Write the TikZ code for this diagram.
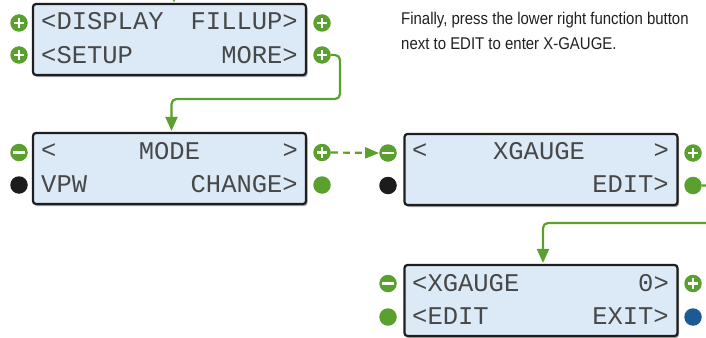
\documentclass[tikz,border=0pt]{standalone}
\usepackage{fontspec}
\usetikzlibrary{arrows.meta,shadows}
\newfontfamily\lcdfont{Liberation Mono}
\newfontfamily\notefont[FakeStretch=0.88]{Liberation Sans}
\definecolor{lgreen}{HTML}{5AA02E}
\definecolor{lblue}{HTML}{1C5A96}
\definecolor{lblack}{HTML}{1C1C1C}
\definecolor{lcdfill}{HTML}{DCEAF7}
\definecolor{lcdborder}{HTML}{1E1E1E}
\definecolor{lcdtext}{HTML}{484848}
\definecolor{notetext}{HTML}{231F20}
\tikzset{
  lcd/.style={draw=lcdborder, line width=2.2pt, fill=lcdfill, rounded corners=3pt,
    minimum width=273pt, minimum height=71pt, inner sep=0pt,
    drop shadow={shadow xshift=1.5pt, shadow yshift=-2pt, fill=black, opacity=0.35}},
  lcdtxt/.style={font=\lcdfont\fontsize{25.5}{26}\selectfont, text=lcdtext, inner sep=0pt},
  btn/.style={circle, minimum size=17.5pt, inner sep=0pt, fill=lgreen},
  plusbtn/.style={btn, path picture={
      \draw[white, line width=2.6pt] (path picture bounding box.center) +(-5.3pt,0) -- +(5.3pt,0);
      \draw[white, line width=2.6pt] (path picture bounding box.center) +(0,-5.3pt) -- +(0,5.3pt);}},
  minusbtn/.style={btn, path picture={
      \draw[white, line width=2.9pt] (path picture bounding box.center) +(-5.6pt,0) -- +(5.6pt,0);}},
  greendot/.style={btn},
  blackdot/.style={btn, fill=lblack},
  bluedot/.style={btn, fill=lblue},
  conn/.style={draw=lgreen, line width=2.2pt, rounded corners=5pt,
    -{Triangle[length=14pt,width=12pt]}},
  dconn/.style={draw=lgreen, line width=2.2pt, dash pattern=on 7pt off 5pt,
    -{Triangle[length=14pt,width=11pt]}},
  note/.style={font=\notefont\fontsize{17}{24}\selectfont, text=notetext, inner sep=0pt, anchor=base west}
}
\begin{document}
\begin{tikzpicture}[x=1pt,y=-1pt]
\useasboundingbox (0,0) rectangle (706,337);
\clip (0,0) rectangle (706,337);
\fill[white] (0,0) rectangle (706,337);

% ---------- LCD boxes ----------
\node[lcd] (b1) at (169.5,39.5) {};
\node[lcd] (b2) at (169.5,168.5) {};
\node[lcd] (b3) at (541,169.5) {};
\node[lcd] (b4) at (541,300.5) {};

% ---------- LCD texts ----------
\node[lcdtxt, anchor=west] (t1a) at (41,21) {<DISPLAY};
\node[lcdtxt, anchor=east] (t1b) at (298,21) {FILLUP>};
\node[lcdtxt, anchor=west] (t1c) at (41,55) {<SETUP};
\node[lcdtxt, anchor=east] (t1d) at (298,55) {MORE>};

\node[lcdtxt, anchor=west] (t2a) at (41,151.5) {<};
\node[lcdtxt] (t2b) at (169.5,151.5) {MODE};
\node[lcdtxt, anchor=east] (t2c) at (298,151.5) {>};
\node[lcdtxt, anchor=west] (t2d) at (41,184) {VPW};
\node[lcdtxt, anchor=east] (t2e) at (298,184) {CHANGE>};

\node[lcdtxt, anchor=west] (t3a) at (412,151.5) {<};
\node[lcdtxt] (t3b) at (539,151.5) {XGAUGE};
\node[lcdtxt, anchor=east] (t3c) at (669,151.5) {>};
\node[lcdtxt, anchor=east] (t3d) at (669,184) {EDIT>};

\node[lcdtxt, anchor=west] (t4a) at (412,283) {<XGAUGE};
\node[lcdtxt, anchor=east] (t4b) at (669,283) {0>};
\node[lcdtxt, anchor=west] (t4c) at (412,316) {<EDIT};
\node[lcdtxt, anchor=east] (t4d) at (669,316) {EXIT>};

% ---------- buttons ----------
\node[plusbtn] (b1l1) at (19,23) {};
\node[plusbtn] (b1l2) at (19,55) {};
\node[plusbtn] (b1r1) at (322,23) {};
\node[plusbtn] (b1r2) at (322,55) {};

\node[minusbtn] (b2l1) at (19,152.5) {};
\node[blackdot] (b2l2) at (19,185) {};
\node[plusbtn] (b2r1) at (322,152.5) {};
\node[greendot] (b2r2) at (322,185) {};

\node[minusbtn] (b3l1) at (388,153) {};
\node[blackdot] (b3l2) at (388,185.5) {};
\node[plusbtn] (b3r1) at (693,153) {};
\node[greendot] (b3r2) at (693,185.5) {};

\node[minusbtn] (b4l1) at (388,283.5) {};
\node[greendot] (b4l2) at (388,317) {};
\node[plusbtn] (b4r1) at (693,283.5) {};
\node[bluedot] (b4r2) at (693,317) {};

% ---------- connectors ----------
\coordinate (top) at (174,-20);
\draw[conn] (top) -- (174,2.5);
\draw[conn] (b1r2.east) -- (340,55) -- (340,99) -| ([xshift=2pt,yshift=1pt]b2.north);
\draw[dconn] (b2r1.east) -- (b3l1.west);
\draw[conn] (b3r2.east) -- (720,185.5) -- (720,223) -| ([xshift=2pt,yshift=1pt]b4.north);

% ---------- note ----------
\node[note] (n1) at (401,25) {Finally, press the lower right function button};
\node[note] (n2) at (401,49.5) {next to EDIT to enter X-GAUGE.};
\end{tikzpicture}
\end{document}
